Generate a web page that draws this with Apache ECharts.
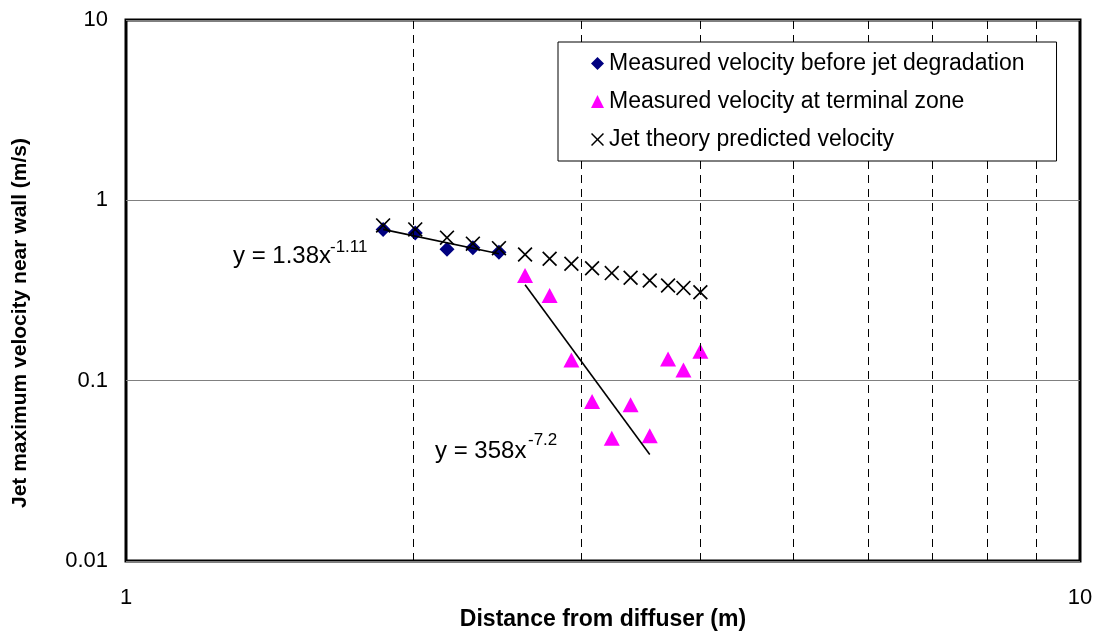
<!DOCTYPE html>
<html>
<head>
<meta charset="utf-8">
<script src="https://cdn.jsdelivr.net/npm/echarts@6/dist/echarts.min.js"></script>
<style>
  html, body { margin: 0; background: #fff; }
  #chart { width: 1102px; height: 637px; }
</style>
</head>
<body>
<div id="chart"></div>
<script>
// values (log-log plot)
var xMeasured = [1.86, 2.01, 2.17, 2.31, 2.46];
var yMeasured = [0.69, 0.66, 0.535, 0.545, 0.515];

var xTerminal = [2.62, 2.78, 2.93, 3.08, 3.23, 3.38, 3.54, 3.70, 3.84, 4.0];
var yTerminal = [0.383, 0.297, 0.130, 0.0767, 0.048, 0.0736, 0.0495, 0.132, 0.1147, 0.1455];

var xTheory = [1.86, 2.01, 2.17, 2.31, 2.46, 2.62, 2.78, 2.93, 3.08, 3.23, 3.38, 3.54, 3.70, 3.84, 4.0];
var yTheory = [0.726, 0.690, 0.621, 0.575, 0.543, 0.501, 0.474, 0.445, 0.420, 0.395, 0.372, 0.359, 0.337, 0.327, 0.309];

// power-law fits are straight lines on log-log, so their two end points
var fitBefore = [[1.86, 0.69], [2.46, 0.505]];
var fitTerminal = [[2.62, 0.34], [3.54, 0.039]];

var gridX = [2, 3, 4, 5, 6, 7, 8, 9];

var names = [
  'Measured velocity before jet degradation',
  'Measured velocity at terminal zone',
  'Jet theory predicted velocity'
];

var font = 'Liberation Sans, Arial, sans-serif';
var crossPath = 'path://M0,0.8 L0.8,0 L5,4.2 L9.2,0 L10,0.8 L5.8,5 L10,9.2 L9.2,10 L5,5.8 L0.8,10 L0,9.2 L4.2,5 Z';

function pairs (xs, ys) {
  return xs.map(function (x, i) { return [x, ys[i]]; });
}

var chart = echarts.init(document.getElementById('chart'));
var option = {
  animation: false,
  backgroundColor: '#fff',
  grid: {
    left: 126, top: 20, right: 22, bottom: 76,
    show: true, borderColor: '#000', borderWidth: 3
  },
  legend: {
    orient: 'vertical',
    left: 558, top: 42,
    z: 100,
    padding: [10, 32, 10, 33],
    itemGap: 15,
    itemWidth: 13, itemHeight: 13,
    borderColor: '#000', borderWidth: 1,
    backgroundColor: '#fff',
    textStyle: { fontFamily: font, fontSize: 23, color: '#000' },
    data: names
  },
  xAxis: {
    type: 'log', logBase: 10, min: 1, max: 10,
    axisLine: { show: false },
    axisTick: { show: false },
    splitLine: { show: false },
    axisLabel: { fontFamily: font, fontSize: 22, color: '#000', margin: 26 }
  },
  yAxis: {
    type: 'log', logBase: 10, min: 0.01, max: 10,
    axisLine: { show: false },
    axisTick: { show: false },
    splitLine: { show: true, lineStyle: { color: '#808080', width: 1 } },
    axisLabel: { fontFamily: font, fontSize: 22, color: '#000', margin: 18 }
  },
  graphic: [
    {
      type: 'text', x: 603, y: 620,
      style: { text: 'Distance from diffuser (m)', font: 'bold 23px ' + font, fill: '#000', align: 'center', verticalAlign: 'middle' }
    },
    {
      type: 'text', x: 20, y: 323, rotation: Math.PI / 2,
      style: { text: 'Jet maximum velocity near wall (m/s)', font: 'bold 21px ' + font, fill: '#000', align: 'center', verticalAlign: 'middle' }
    },
    {
      type: 'text', x: 233, y: 256,
      style: { text: 'y = 1.38x', font: '24px ' + font, fill: '#000', verticalAlign: 'middle' }
    },
    {
      type: 'text', x: 330, y: 247,
      style: { text: '-1.11', font: '17px ' + font, fill: '#000', verticalAlign: 'middle' }
    },
    {
      type: 'text', x: 435, y: 451,
      style: { text: 'y = 358x', font: '24px ' + font, fill: '#000', verticalAlign: 'middle' }
    },
    {
      type: 'text', x: 528, y: 440,
      style: { text: '-7.2', font: '17px ' + font, fill: '#000', verticalAlign: 'middle' }
    }
  ],
  series: [
    {
      type: 'line',
      data: fitBefore,
      symbol: 'none',
      lineStyle: { color: '#000', width: 1.6 },
      silent: true,
      markLine: {
        silent: true,
        symbol: ['none', 'none'],
        label: { show: false },
        lineStyle: { color: '#000', width: 1, type: [8, 6] },
        data: gridX.map(function (v) { return { xAxis: v }; })
      }
    },
    {
      type: 'line',
      data: fitTerminal,
      symbol: 'none',
      lineStyle: { color: '#000', width: 1.6 },
      silent: true
    },
    {
      name: names[1],
      type: 'scatter',
      symbol: 'triangle',
      symbolSize: [16, 15],
      itemStyle: { color: '#ff00ff', opacity: 1 },
      data: pairs(xTerminal, yTerminal)
    },
    {
      name: names[0],
      type: 'scatter',
      symbol: 'diamond',
      symbolSize: 15,
      itemStyle: { color: '#000080', opacity: 1 },
      data: pairs(xMeasured, yMeasured)
    },
    {
      name: names[2],
      type: 'scatter',
      symbol: crossPath,
      symbolSize: 15,
      itemStyle: { color: '#000', opacity: 1 },
      data: pairs(xTheory, yTheory)
    }
  ]
};
chart.setOption(option);
</script>
</body>
</html>
